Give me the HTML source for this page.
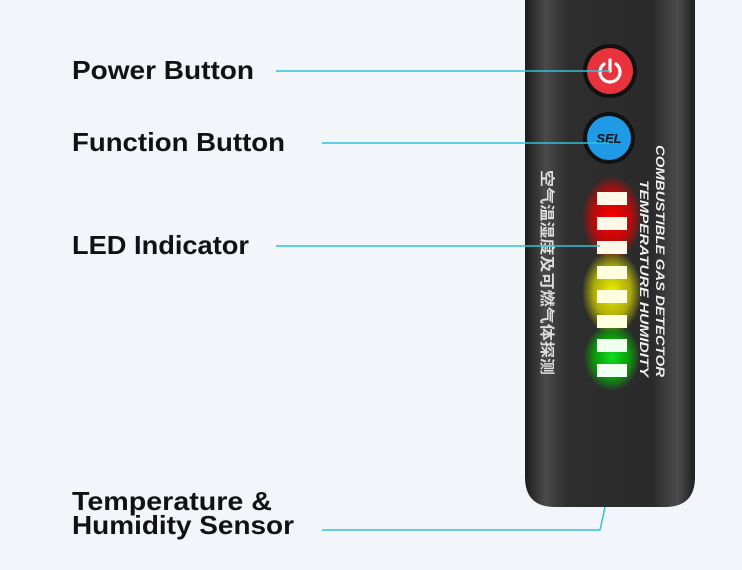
<!DOCTYPE html>
<html><head><meta charset="utf-8"><style>
html,body{margin:0;padding:0;background:#f2f5f9;}
svg{display:block;}
text{font-family:"Liberation Sans","Noto Sans CJK SC",sans-serif;}
</style></head><body>
<svg width="742" height="570" viewBox="0 0 742 570" xmlns="http://www.w3.org/2000/svg">
<defs>
<linearGradient id="body" x1="0" x2="1" y1="0" y2="0">
<stop offset="0" stop-color="#1c1c1c"/><stop offset="0.12" stop-color="#4a4a4a"/><stop offset="0.25" stop-color="#2e2e2e"/><stop offset="0.75" stop-color="#2a2a2a"/><stop offset="0.9" stop-color="#4c4c4c"/><stop offset="1" stop-color="#1e1e1e"/>
</linearGradient>
<radialGradient id="gr"><stop offset="0" stop-color="#ff0000" stop-opacity="1"/><stop offset="0.6" stop-color="#e00000" stop-opacity="0.8"/><stop offset="1" stop-color="#ff0000" stop-opacity="0"/></radialGradient>
<radialGradient id="gy"><stop offset="0" stop-color="#f0f000" stop-opacity="1"/><stop offset="0.6" stop-color="#d8d800" stop-opacity="0.75"/><stop offset="1" stop-color="#e0e000" stop-opacity="0"/></radialGradient>
<radialGradient id="gg"><stop offset="0" stop-color="#10e020" stop-opacity="1"/><stop offset="0.6" stop-color="#00c000" stop-opacity="0.75"/><stop offset="1" stop-color="#00d000" stop-opacity="0"/></radialGradient>
</defs>
<rect width="742" height="570" fill="#f2f5f9"/>
<path d="M525 0 H695 V477 Q695 507 665 507 H555 Q525 507 525 477 Z" fill="url(#body)"/>
<!-- glows -->
<ellipse cx="612" cy="218" rx="30" ry="42" fill="url(#gr)"/>
<ellipse cx="612" cy="292" rx="30" ry="42" fill="url(#gy)"/>
<ellipse cx="612" cy="357" rx="28" ry="34" fill="url(#gg)"/>
<g fill="#fff8e8">
<rect x="597" y="192" width="30" height="13"/><rect x="597" y="217" width="30" height="13"/><rect x="597" y="241" width="30" height="13"/>
<rect x="597" y="266" width="30" height="13" fill="#ffffe0"/><rect x="597" y="290" width="30" height="13" fill="#ffffe0"/><rect x="597" y="315" width="30" height="13" fill="#ffffe0"/>
<rect x="597" y="339" width="30" height="13" fill="#f0fff0"/><rect x="597" y="364" width="30" height="13" fill="#f0fff0"/>
</g>
<!-- buttons -->
<circle cx="610" cy="71" r="27" fill="#111"/>
<circle cx="610" cy="71" r="23" fill="#e8323c"/>
<path d="M604 64 A10 10 0 1 0 616 64" fill="none" stroke="#fff" stroke-width="3.2" stroke-linecap="round"/>
<line x1="610" y1="60" x2="610" y2="71" stroke="#fff" stroke-width="3.2" stroke-linecap="round"/>
<circle cx="609" cy="138" r="26" fill="#111"/>
<circle cx="609" cy="138" r="22" fill="#1e9ae6"/>
<text x="609" y="143" font-size="13" font-weight="bold" font-style="italic" text-anchor="middle" fill="#111">SEL</text>
<!-- vertical text -->
<text transform="translate(542,170) rotate(90)" font-size="15" font-weight="bold" fill="#ddd" textLength="205" lengthAdjust="spacingAndGlyphs">空气温湿度及可燃气体探测</text>
<text transform="translate(656,145) rotate(90)" font-size="12" font-weight="bold" font-style="italic" fill="#eee" textLength="232" lengthAdjust="spacingAndGlyphs">COMBUSTIBLE GAS DETECTOR</text>
<text transform="translate(640,180) rotate(90)" font-size="12" font-weight="bold" font-style="italic" fill="#eee" textLength="197" lengthAdjust="spacingAndGlyphs">TEMPERATURE HUMIDITY</text>
<!-- leader lines -->
<g stroke="#2ec4d8" stroke-width="1.5" fill="none">
<line x1="276" y1="71" x2="610" y2="71"/>
<line x1="322" y1="143" x2="609" y2="143"/>
<line x1="276" y1="246" x2="600" y2="246"/>
<polyline points="322,530 600,530 605,507"/>
</g>
<g font-size="26" font-weight="bold" fill="#111">
<text x="72" y="79" textLength="182" lengthAdjust="spacingAndGlyphs">Power Button</text>
<text x="72" y="151" textLength="213" lengthAdjust="spacingAndGlyphs">Function Button</text>
<text x="72" y="254" textLength="177" lengthAdjust="spacingAndGlyphs">LED Indicator</text>
<text x="72" y="510" textLength="200" lengthAdjust="spacingAndGlyphs">Temperature &amp;</text>
<text x="72" y="534" textLength="222" lengthAdjust="spacingAndGlyphs">Humidity Sensor</text>
</g>
</svg>
</body></html>
